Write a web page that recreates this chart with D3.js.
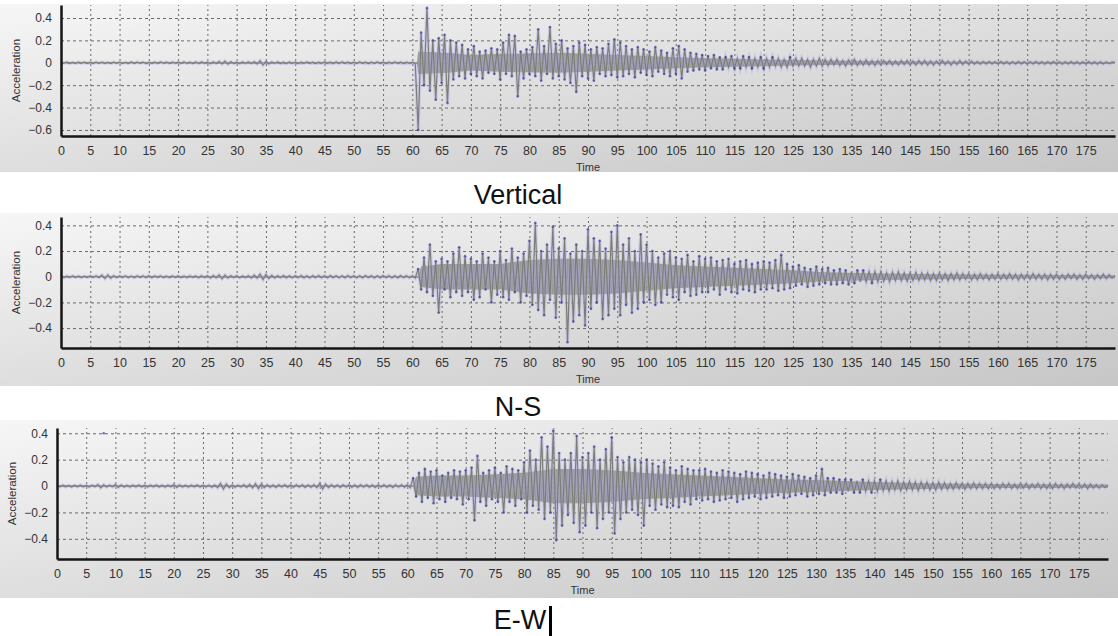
<!DOCTYPE html>
<html>
<head>
<meta charset="utf-8">
<script src="https://cdn.jsdelivr.net/npm/d3@7/dist/d3.min.js"></script>
<style>
	body { margin: 0; background: #fff; }
	svg { display: block; font-family: "Liberation Sans", Arial, sans-serif; }
</style>
</head>
<body>
<script>
// sampling step of the three records (seconds between two values)
const dt = 0.5

// tick labels
const timeTicks = [0, 5, 10, 15, 20, 25, 30, 35, 40, 45, 50, 55, 60, 65, 70, 75, 80, 85, 90,
	95, 100, 105, 110, 115, 120, 125, 130, 135, 140, 145, 150, 155, 160, 165, 170, 175]
const verticalTicks = [0.4, 0.2, 0, -0.2, -0.4, -0.6]
const horizontalTicks = [0.4, 0.2, 0, -0.2, -0.4]
const titles = ["Vertical", "N-S", "E-W"]

// acceleration peaks, one value every 0.5 s, one row = 10 s
const vertical = [
	.005, -.004, .006, -.005, .004, -.006, .005, -.004, .006, -.005, .004, -.005, .006, -.004, .005, -.006, .004, -.005, .006, -.004,
	.005, -.006, .004, -.005, .007, -.005, .006, -.004, .005, -.006, .004, -.005, .006, -.005, .007, -.004, .005, -.006, .005, -.004,
	.006, -.005, .007, -.006, .005, -.007, .008, -.006, .007, -.005, .006, -.008, .007, -.006, .012, -.01, .015, -.012, .009, -.007,
	.006, -.008, .007, -.006, .008, -.007, .009, -.01, .018, -.02, .012, -.01, .007, -.006, .008, -.007, .006, -.008, .007, -.006,
	.006, -.007, .005, -.006, .007, -.005, .006, -.007, .005, -.006, .007, -.005, .006, -.007, .008, -.006, .007, -.005, .006, -.007,
	.005, -.006, .007, -.005, .006, -.007, .005, -.006, .007, -.005, .006, -.007, .005, -.006, .007, -.005, .006, -.007, .005, -.006,
	.006, -.01, -.6, .27, -.2, .49, -.25, .2, -.33, .22, -.18, .25, -.36, .2, -.15, .18, -.12, .16, -.14, .12,
	-.1, .15, -.12, .1, -.14, .11, -.09, .13, -.1, .12, -.15, .18, -.1, .25, -.12, .24, -.3, .1, -.14, .12,
	-.1, .14, -.12, .3, -.16, .15, -.1, .32, -.14, .17, -.12, .2, -.15, .13, -.18, .15, -.26, .18, -.12, .16,
	-.14, .12, -.16, .14, -.1, .13, -.12, .17, -.11, .21, -.13, .18, -.12, .15, -.1, .12, -.13, .14, -.09, .12,
	-.11, .1, -.12, .14, -.08, .11, -.1, .09, -.12, .13, -.1, .15, -.14, .12, -.08, .09, -.07, .08, -.06, .07,
	-.07, .06, -.05, .07, -.06, .05, -.06, .05, -.04, .06, -.05, .04, -.05, .06, -.04, .05, -.05, .04, -.04, .05,
	-.05, .04, -.04, .05, -.03, .04, -.04, .03, -.04, .05, -.03, .04, -.03, .04, -.03, .03, -.04, .03, -.03, .04,
	-.03, .03, -.025, .03, -.02, .03, -.025, .02, -.03, .025, -.02, .03, -.025, .02, -.02, .025, -.02, .02, -.025, .02,
	-.02, .02, -.015, .02, -.02, .015, -.02, .02, -.015, .02, -.02, .015, -.02, .02, -.015, .02, -.02, .015, -.02, .015,
	-.015, .02, -.015, .015, -.02, .015, -.015, .02, -.015, .015, -.012, .015, -.012, .01, -.012, .012, -.01, .012, -.01, .01,
	-.01, .012, -.01, .01, -.012, .01, -.01, .012, -.01, .01, -.012, .01, -.01, .012, -.01, .01, -.012, .01, -.01, .012,
	-.01, .01, -.012, .01, -.01, .012, -.01, .01, -.012, .01, -.01, .012, -.01, .01, -.012, .01, -.01, .008, -.008, .006,
	.004
]

const northSouth = [
	.005, -.006, .004, -.005, .006, -.004, .005, -.006, .004, -.005, .006, -.005, .007, -.006, .012, -.015, .014, -.012, .008, -.006,
	.006, -.005, .007, -.006, .005, -.007, .006, -.005, .007, -.006, .008, -.007, .006, -.005, .007, -.006, .005, -.007, .006, -.005,
	.006, -.007, .005, -.006, .007, -.005, .006, -.008, .007, -.006, .008, -.01, .009, -.008, .014, -.016, .012, -.01, .008, -.007,
	.007, -.008, .006, -.007, .008, -.009, .012, -.01, .02, -.022, .018, -.014, .01, -.009, .008, -.007, .009, -.008, .007, -.009,
	.008, -.007, .009, -.008, .007, -.009, .008, -.007, .009, -.008, .007, -.008, .009, -.007, .008, -.009, .007, -.008, .009, -.007,
	.008, -.009, .007, -.008, .009, -.007, .008, -.009, .007, -.008, .009, -.007, .008, -.009, .007, -.008, .009, -.007, .008, -.009,
	.008, -.01, .06, -.1, .15, -.12, .25, -.15, .12, -.28, .14, -.1, .12, -.16, .18, -.12, .23, -.15, .16, -.12,
	.14, -.18, .12, -.16, .18, -.1, .15, -.2, .12, -.14, .2, -.16, .13, -.18, .22, -.12, .15, -.2, .18, -.15,
	.28, -.22, .42, -.26, .2, -.3, .25, -.18, .39, -.32, .22, -.2, .3, -.51, .18, -.35, .25, -.3, .2, -.38,
	.37, -.25, .3, -.2, .28, -.33, .22, -.3, .35, -.25, .4, -.3, .25, -.22, .3, -.28, .2, -.25, .33, -.2,
	.25, -.18, .2, -.22, .15, -.2, .18, -.14, .2, -.16, .15, -.18, .14, -.12, .17, -.15, .12, -.14, .16, -.12,
	.14, -.12, .15, -.1, .12, -.14, .13, -.1, .14, -.12, .1, -.13, .12, -.1, .13, -.11, .1, -.12, .11, -.1,
	.12, -.1, .11, -.09, .13, -.11, .17, -.1, .1, -.09, .08, -.07, .09, -.06, .07, -.08, .06, -.07, .08, -.06,
	.06, -.05, .07, -.06, .05, -.06, .06, -.05, .05, -.06, .04, -.05, .05, -.04, .05, -.04, .04, -.05, .04, -.04,
	.04, -.035, .03, -.04, .035, -.03, .04, -.03, .03, -.035, .03, -.03, .035, -.03, .03, -.025, .03, -.03, .025, -.03,
	.03, -.025, .025, -.03, .025, -.025, .03, -.025, .025, -.02, .025, -.025, .02, -.025, .025, -.02, .02, -.025, .02, -.02,
	.025, -.02, .02, -.02, .025, -.02, .02, -.025, .02, -.02, .02, -.02, .025, -.02, .02, -.02, .02, -.025, .02, -.02,
	.02, -.02, .015, -.02, .02, -.015, .02, -.02, .015, -.02, .02, -.015, .015, -.02, .015, -.015, .02, -.015, .015, -.01,
	.008
]

const eastWest = [
	.006, -.005, .007, -.006, .005, -.007, .006, -.005, .007, -.006, .005, -.007, .006, -.005, .012, -.014, .01, -.008, .007, -.006,
	.012, -.01, .008, -.007, .006, -.008, .007, -.006, .008, -.007, .006, -.008, .007, -.006, .008, -.007, .006, -.008, .007, -.006,
	.012, -.01, .008, -.007, .006, -.008, .007, -.006, .008, -.007, .006, -.008, .007, -.009, .008, -.012, .02, -.022, .015, -.012,
	.008, -.009, .007, -.008, .009, -.01, .012, -.014, .018, -.02, .015, -.012, .01, -.009, .008, -.01, .009, -.008, .01, -.009,
	.008, -.009, .01, -.008, .009, -.01, .008, -.009, .01, -.012, .02, -.022, .015, -.012, .01, -.009, .008, -.01, .009, -.008,
	.01, -.009, .008, -.01, .009, -.008, .01, -.009, .008, -.01, .009, -.008, .01, -.009, .008, -.01, .009, -.008, .01, -.009,
	.01, -.012, .06, -.08, .1, -.12, .13, -.09, .11, -.13, .12, -.1, .08, -.12, .1, -.09, .12, -.1, .11, -.14,
	.12, -.1, .14, -.26, .23, -.12, .1, -.15, .12, -.1, .14, -.12, .1, -.2, .15, -.12, .13, -.15, .12, -.1,
	.18, -.2, .27, -.15, .2, -.18, .37, -.25, .3, -.2, .42, -.41, .25, -.3, .2, -.22, .25, -.28, .38, -.35,
	.22, -.3, .25, -.2, .3, -.32, .2, -.25, .28, -.2, .37, -.36, .22, -.25, .18, -.2, .22, -.18, .2, -.22,
	.18, -.3, .2, -.15, .17, -.18, .15, -.14, .18, -.16, .14, -.15, .12, -.16, .15, -.12, .13, -.14, .12, -.1,
	.12, -.11, .13, -.1, .11, -.12, .1, -.11, .12, -.1, .11, -.09, .1, -.12, .09, -.1, .11, -.09, .1, -.08,
	.09, -.1, .08, -.09, .1, -.08, .09, -.07, .08, -.09, .07, -.08, .09, -.07, .08, -.06, .07, -.08, .06, -.07,
	.08, -.06, .13, -.07, .06, -.05, .06, -.05, .05, -.06, .05, -.04, .05, -.05, .04, -.05, .05, -.04, .04, -.05,
	.04, -.04, .05, -.035, .04, -.04, .035, -.03, .04, -.035, .03, -.03, .035, -.03, .03, -.035, .03, -.025, .03, -.03,
	.025, -.03, .03, -.025, .025, -.025, .02, -.025, .025, -.02, .02, -.025, .02, -.02, .025, -.02, .02, -.02, .02, -.02,
	.02, -.02, .015, -.02, .02, -.015, .02, -.02, .015, -.02, .02, -.015, .02, -.02, .015, -.015, .02, -.02, .015, -.02,
	.015, -.02, .02, -.015, .015, -.02, .015, -.015, .02, -.015, .015, -.015, .015, -.02, .015, -.015, .01, -.015, .01, -.01,
	.005
]

// half-width of the dense gray core of each record: [time, acceleration]
const verticalCore = [[0, .006], [60.8, .006], [61, .1], [66, .09], [70, .07], [75, .08], [85, .09], [90, .08], [95, .07],
	[100, .06], [105, .05], [110, .04], [115, .035], [120, .03], [125, .025], [130, .02], [140, .015], [150, .012], [160, .01], [180, .008]]
const northSouthCore = [[0, .006], [61, .006], [61.5, .08], [65, .1], [70, .1], [75, .1], [80, .13], [85, .14], [90, .14], [95, .13],
	[100, .11], [105, .09], [110, .08], [115, .07], [120, .06], [125, .05], [130, .035], [140, .025], [150, .02], [160, .015], [180, .012]]
const eastWestCore = [[0, .007], [61, .007], [61.5, .07], [65, .08], [70, .08], [75, .09], [80, .1], [85, .13], [90, .13], [95, .12],
	[100, .1], [105, .09], [110, .08], [115, .07], [120, .06], [125, .05], [130, .045], [140, .03], [150, .02], [160, .015], [180, .012]]

// the lonely marker near the start of the E-W record: [time, acceleration]
const eastWestStray = [[8, 0.4]]

// size of the page
var width = 1118,
	height = 636;

var svg = d3.select("body").append("svg")
	.attr("width", width)
	.attr("height", height)

// gray gradient behind each chart
var grad = svg.append("defs").append("linearGradient")
	.attr("id", "panelBg")
	.attr("x1", 0).attr("y1", 0)
	.attr("x2", 1).attr("y2", 1)
grad.append("stop").attr("offset", "0%").attr("stop-color", "#f6f6f6")
grad.append("stop").attr("offset", "100%").attr("stop-color", "#c6c6c6")

// layout of the three charts
var panels = [{
		values: vertical, core: verticalCore, ticks: verticalTicks, title: titles[0], stray: [],
		bgTop: 4, bgBottom: 172, left: 61, right: 1115, top: 5, bottom: 136,
		yDomain: [-0.654, 0.516], titleX: 518, titleY: 204
	}, {
		values: northSouth, core: northSouthCore, ticks: horizontalTicks, title: titles[1], stray: [],
		bgTop: 213, bgBottom: 386, left: 61, right: 1115, top: 217, bottom: 348,
		yDomain: [-0.555, 0.465], titleX: 518, titleY: 416
	}, {
		values: eastWest, core: eastWestCore, ticks: horizontalTicks, title: titles[2], stray: eastWestStray,
		bgTop: 420, bgBottom: 598, left: 57, right: 1108, top: 428, bottom: 559,
		yDomain: [-0.553, 0.44], titleX: 520, titleY: 629
	}]

panels.forEach(drawPanel)

function drawPanel(p) {

	// background
	svg.append("rect")
		.attr("x", 0)
		.attr("y", p.bgTop)
		.attr("width", width)
		.attr("height", p.bgBottom - p.bgTop)
		.attr("fill", "url(#panelBg)")

	// set the ranges
	var x = d3.scaleLinear()
		.domain([0, 180])
		.range([p.left, p.right]);

	var y = d3.scaleLinear()
		.domain(p.yDomain)
		.range([p.bottom, p.top]);

	// dotted grid
	svg.append("g")
		.attr("transform", "translate(0," + p.bottom + ")")
		.call(d3.axisBottom(x).tickValues(timeTicks.slice(1)).tickSize(p.top - p.bottom).tickFormat(""))
		.call(g => g.select(".domain").remove())
		.selectAll("line")
		.attr("stroke", "#6a6a6a")
		.attr("stroke-dasharray", "2,3");

	svg.append("g")
		.attr("transform", "translate(" + p.left + ",0)")
		.call(d3.axisLeft(y).tickValues(p.ticks).tickSize(p.left - p.right).tickFormat(""))
		.call(g => g.select(".domain").remove())
		.selectAll("line")
		.attr("stroke", "#6a6a6a")
		.attr("stroke-dasharray", "3,3");

	// dense core of the record, too fast to draw stroke by stroke
	var core = d3.area()
		.x(d => x(d[0]))
		.y0(d => y(-d[1]))
		.y1(d => y(d[1]));

	svg.append("path")
		.datum(p.core)
		.attr("fill", "#8a8a82")
		.attr("fill-opacity", 0.85)
		.attr("d", core);

	var line = d3.line()
		.x((d, i) => x(i * dt))
		.y(d => y(d));

	// faint blue haze under the peaks
	svg.append("path")
		.datum(p.values)
		.attr("fill", "none")
		.attr("stroke", "#b0b0ea")
		.attr("stroke-opacity", 0.45)
		.attr("stroke-width", 3.5)
		.attr("d", line);

	// the peaks
	svg.append("path")
		.datum(p.values)
		.attr("fill", "none")
		.attr("stroke", "#7d7d78")
		.attr("stroke-width", 1.2)
		.attr("d", line);

	// blue markers on the bigger swings
	var marks = p.values.map((v, i) => [i * dt, v]).filter(d => Math.abs(d[1]) >= 0.05).concat(p.stray)
	svg.append("g")
		.selectAll("circle")
		.data(marks)
		.enter().append("circle")
		.attr("cx", d => x(d[0]))
		.attr("cy", d => y(d[1]))
		.attr("r", 1.3)
		.attr("fill", "#2d2d9c")
		.attr("fill-opacity", 0.65);

	// add the x Axis
	var xAxis = svg.append("g")
		.attr("transform", "translate(0," + p.bottom + ")")
		.call(d3.axisBottom(x).tickValues(timeTicks).tickSize(0).tickPadding(10).tickFormat(d3.format("d")));
	xAxis.select(".domain").attr("stroke", "#151515").attr("stroke-width", 2.5);
	xAxis.selectAll("text").attr("fill", "#333").style("font-size", "12.5px");

	// add the y Axis
	var yAxis = svg.append("g")
		.attr("transform", "translate(" + p.left + ",0)")
		.call(d3.axisLeft(y).tickValues(p.ticks).tickSize(0).tickPadding(9).tickFormat(d => d === 0 ? "0" : d3.format(".1f")(d)));
	yAxis.select(".domain").attr("stroke", "#151515").attr("stroke-width", 2.5);
	yAxis.selectAll("text").attr("fill", "#333").style("font-size", "12px");

	// axis labels
	svg.append("text")
		.attr("x", (p.left + p.right) / 2)
		.attr("y", p.bottom + 35)
		.attr("text-anchor", "middle")
		.attr("fill", "#333")
		.style("font-size", "11px")
		.text("Time");

	svg.append("text")
		.attr("transform", "translate(" + (p.left - 45) + "," + ((p.top + p.bottom) / 2) + ") rotate(-90)")
		.attr("dy", "0.35em")
		.attr("text-anchor", "middle")
		.attr("fill", "#333")
		.style("font-size", "11.5px")
		.text("Acceleration");

	// title under the chart
	svg.append("text")
		.attr("x", p.titleX)
		.attr("y", p.titleY)
		.attr("text-anchor", "middle")
		.attr("fill", "#111")
		.style("font-size", "27px")
		.text(p.title);
}

// text cursor left after the last title
svg.append("rect")
	.attr("x", 549)
	.attr("y", 606)
	.attr("width", 3)
	.attr("height", 30)
	.attr("fill", "#000")

</script>
</body>
</html>
